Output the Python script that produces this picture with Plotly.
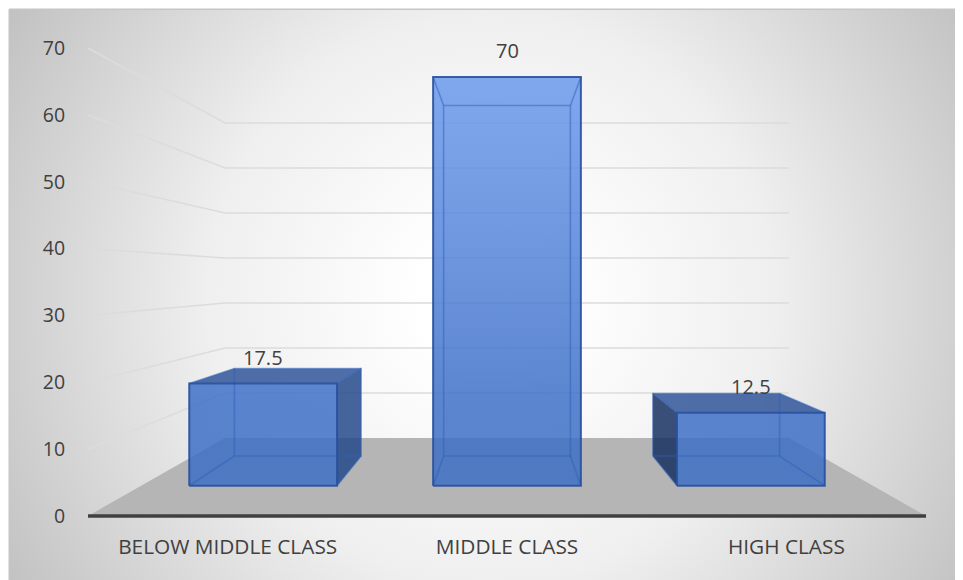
import base64
import plotly.graph_objects as go

categories = ["BELOW MIDDLE CLASS", "MIDDLE CLASS", "HIGH CLASS"]
values = [17.5, 70, 12.5]
value_labels = ["17.5", "70", "12.5"]
y_ticks = [0, 10, 20, 30, 40, 50, 60, 70]

# Perspective set-up: depth ratios of the planes and the vanishing point, in axis units
X_VANISH, Y_VANISH = 1.0, 35.7
R_FRONT, R_BAR_FRONT, R_BAR_BACK, R_WALL = 1.0, 0.873, 0.749, 0.673
HALF_WIDTH = 0.303
X_MIN, X_MAX = -0.5, 2.5
Y_MIN, Y_MAX = -1.5, 70
FONT = "Open Sans"
TXT = "#404040"


def proj(x, v, r):
    return X_VANISH + (x - X_VANISH) * r, Y_VANISH + (v - Y_VANISH) * r


def poly(points):
    pts = [proj(*p) for p in points]
    pts.append(pts[0])
    return [p[0] for p in pts], [p[1] for p in pts]


fig = go.Figure()


def add_fill(points, color=None, gradient=None):
    xs, ys = poly(points)
    kw = dict(fillgradient=gradient) if gradient else dict(fillcolor=color)
    fig.add_trace(go.Scatter(x=xs, y=ys, mode="none", fill="toself", hoverinfo="skip",
                             showlegend=False, **kw))


def add_line(points, color, width, closed=False):
    pts = [proj(*p) for p in points]
    if closed:
        pts.append(pts[0])
    fig.add_trace(go.Scatter(x=[p[0] for p in pts], y=[p[1] for p in pts], mode="lines",
                             line=dict(color=color, width=width), hoverinfo="skip",
                             showlegend=False))


# wall gridlines
for t in y_ticks[1:]:
    add_line([(X_MIN, t, R_FRONT), (X_MIN, t, R_WALL), (X_MAX, t, R_WALL)], "#dcdcdc", 1.6)

# floor
add_fill([(X_MIN, 0, R_FRONT), (X_MAX, 0, R_FRONT), (X_MAX, 0, R_WALL), (X_MIN, 0, R_WALL)],
         color="#b5b5b5")
# category axis line at value 0
add_line([(X_MIN, 0, R_FRONT), (X_MAX, 0, R_FRONT)], "#404040", 3.5)

FRONT_GRADIENT = dict(
    type="vertical", start=4.5, stop=65.8,
    colorscale=[[0, "rgba(60,110,195,0.84)"], [0.2, "rgba(60,110,198,0.84)"],
                [1, "rgba(106,154,237,0.84)"]],
)
SIDE_R = "rgba(34,72,137,0.84)"
SIDE_L = "rgba(21,46,94,0.84)"
TOP = "rgba(46,84,152,0.84)"
EDGE_BACK = "rgba(45,95,185,0.5)"
EDGE_FRONT = "rgba(40,80,160,0.9)"

for i, v in enumerate(values):
    x0, x1 = i - HALF_WIDTH, i + HALF_WIDTH
    f, b = R_BAR_FRONT, R_BAR_BACK
    if x1 < X_VANISH:  # right face seen from outside
        add_fill([(x1, 0, f), (x1, v, f), (x1, v, b), (x1, 0, b)], color=SIDE_R)
    if x0 > X_VANISH:  # left face seen from outside
        add_fill([(x0, 0, f), (x0, v, f), (x0, v, b), (x0, 0, b)], color=SIDE_L)
    if v < Y_VANISH:  # top face seen from above
        add_fill([(x0, v, f), (x1, v, f), (x1, v, b), (x0, v, b)], color=TOP)
    add_fill([(x0, 0, f), (x1, 0, f), (x1, v, f), (x0, v, f)], gradient=FRONT_GRADIENT)
    # rear edges
    add_line([(x0, 0, b), (x1, 0, b), (x1, v, b), (x0, v, b)], EDGE_BACK, 1.6, closed=True)
    for xe in (x0, x1):
        for ve in (0, v):
            add_line([(xe, ve, f), (xe, ve, b)], EDGE_BACK, 1.6)
    add_line([(x0, 0, f), (x1, 0, f), (x1, v, f), (x0, v, f)], EDGE_FRONT, 2, closed=True)
    lx, ly = proj(i, v, R_BAR_FRONT)
    fig.add_annotation(x=lx, y=ly, xref="x", yref="y", text=value_labels[i], showarrow=False,
                       yshift=26.5, font=dict(family=FONT, size=20, color=TXT))

# page background: the figure starts 8px into the page, hence the viewBox origin
svg = """<svg xmlns="http://www.w3.org/2000/svg" width="955" height="572" viewBox="8 8 955 572">
<defs><radialGradient id="g" gradientUnits="userSpaceOnUse" cx="490" cy="300" r="570">
<stop offset="0.12" stop-color="#ffffff"/><stop offset="0.5" stop-color="#efefef"/>
<stop offset="1" stop-color="#c0c0c0"/></radialGradient></defs>
<rect x="9" y="9" width="954" height="571" fill="url(#g)"/>
<rect x="9" y="8.5" width="954" height="1.5" fill="#c6c6c6"/>
<rect x="8.5" y="9" width="1" height="571" fill="#c6c6c6"/>
</svg>"""
uri = "data:image/svg+xml;base64," + base64.b64encode(svg.encode()).decode()

fig.update_layout(
    width=955, height=572,
    margin=dict(l=80, r=37, t=40, b=54),
    paper_bgcolor="white", plot_bgcolor="rgba(0,0,0,0)",
    showlegend=False,
    font=dict(family=FONT, size=19, color=TXT),
    images=[dict(source=uri, xref="paper", yref="paper", x=-80 / 838, y=(478 + 40) / 478,
                 sizex=955 / 838, sizey=572 / 478, xanchor="left", yanchor="top",
                 sizing="stretch", layer="below")],
    xaxis=dict(range=[X_MIN, X_MAX], tickmode="array", tickvals=list(range(len(categories))),
               ticktext=categories, showgrid=False, zeroline=False, showline=False,
               ticks="outside", ticklen=2,
               tickcolor="rgba(0,0,0,0)", tickfont=dict(family=FONT, size=20.8, color=TXT)),
    yaxis=dict(range=[Y_MIN, Y_MAX], tickmode="array", tickvals=y_ticks, showgrid=False,
               zeroline=False, showline=False, ticks="outside", ticklen=18,
               tickcolor="rgba(0,0,0,0)", tickfont=dict(family=FONT, size=19.5, color=TXT)),
)

fig.write_html("out.html")
